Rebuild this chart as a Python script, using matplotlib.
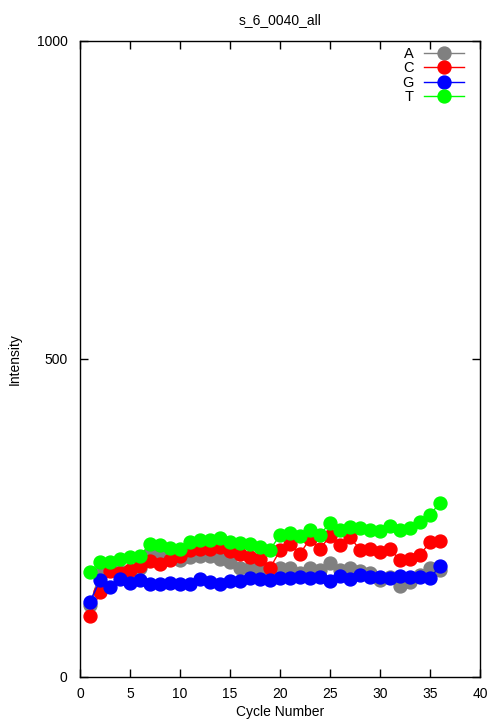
import matplotlib
matplotlib.use('Agg')
import matplotlib.pyplot as plt

plt.rcParams['font.family'] = ['Liberation Sans', 'DejaVu Sans']
plt.rcParams['font.size'] = 10

# cycle numbers and per-base intensities
cycles = list(range(1, 37))
a_vals = [113, 165, 168, 166, 166, 172, 194, 190, 187, 184, 188, 190,
          190, 185, 181, 172, 171, 167, 168, 172, 171, 163, 172, 168,
          180, 168, 172, 166, 164, 153, 158, 143, 150, 160, 171, 168]
c_vals = [96, 134, 166, 164, 169, 175, 183, 178, 184, 190, 200, 202,
          202, 205, 198, 193, 189, 185, 171, 199, 209, 194, 217, 202,
          221, 208, 220, 200, 202, 197, 201, 184, 186, 192, 212, 214]
g_vals = [118, 152, 142, 154, 148, 152, 147, 146, 148, 147, 147, 154,
          150, 146, 151, 151, 156, 154, 153, 155, 155, 158, 155, 158,
          151, 159, 154, 160, 158, 157, 155, 159, 157, 157, 155, 175]
t_vals = [165, 181, 181, 186, 189, 191, 209, 207, 203, 201, 213, 215,
          216, 219, 212, 211, 209, 205, 200, 223, 226, 222, 231, 224,
          242, 231, 236, 234, 231, 230, 237, 231, 235, 243, 255, 274]

series = [('A', a_vals, '#808080'),
          ('C', c_vals, '#ff0000'),
          ('G', g_vals, '#0000ff'),
          ('T', t_vals, '#00ff00')]

fig = plt.figure(figsize=(5.04, 7.2), dpi=100)
ax = fig.add_axes([80/504, 1 - 677/720, 400/504, 636/720])

for name, vals, col in series:
    ax.plot(cycles, vals, '-o', color=col, label=name,
            markersize=9.3, linewidth=1)

ax.set_xlim(0, 40)
ax.set_ylim(0, 1000)
ax.set_xticks(range(0, 41, 5))
ax.set_yticks([0, 500, 1000])
ax.tick_params(direction='in', length=6, top=True, right=True, width=1,
               labelsize=10)
ax.tick_params(axis='x', pad=7)
ax.tick_params(axis='y', pad=9)
for sp in ax.spines.values():
    sp.set_linewidth(1)

ax.set_title('s_6_0040_all', fontsize=10, pad=12)
ax.set_xlabel('Cycle Number', labelpad=3)
ax.set_ylabel('Intensity', labelpad=11)

ax.legend(loc='upper right', frameon=False, markerfirst=False,
          handlelength=2.75, handletextpad=0.7, labelspacing=0.03,
          borderaxespad=0.1, borderpad=0.3, fontsize=10.5,
          bbox_to_anchor=(0.975, 1.0))

fig.savefig('out.png', dpi=100)
